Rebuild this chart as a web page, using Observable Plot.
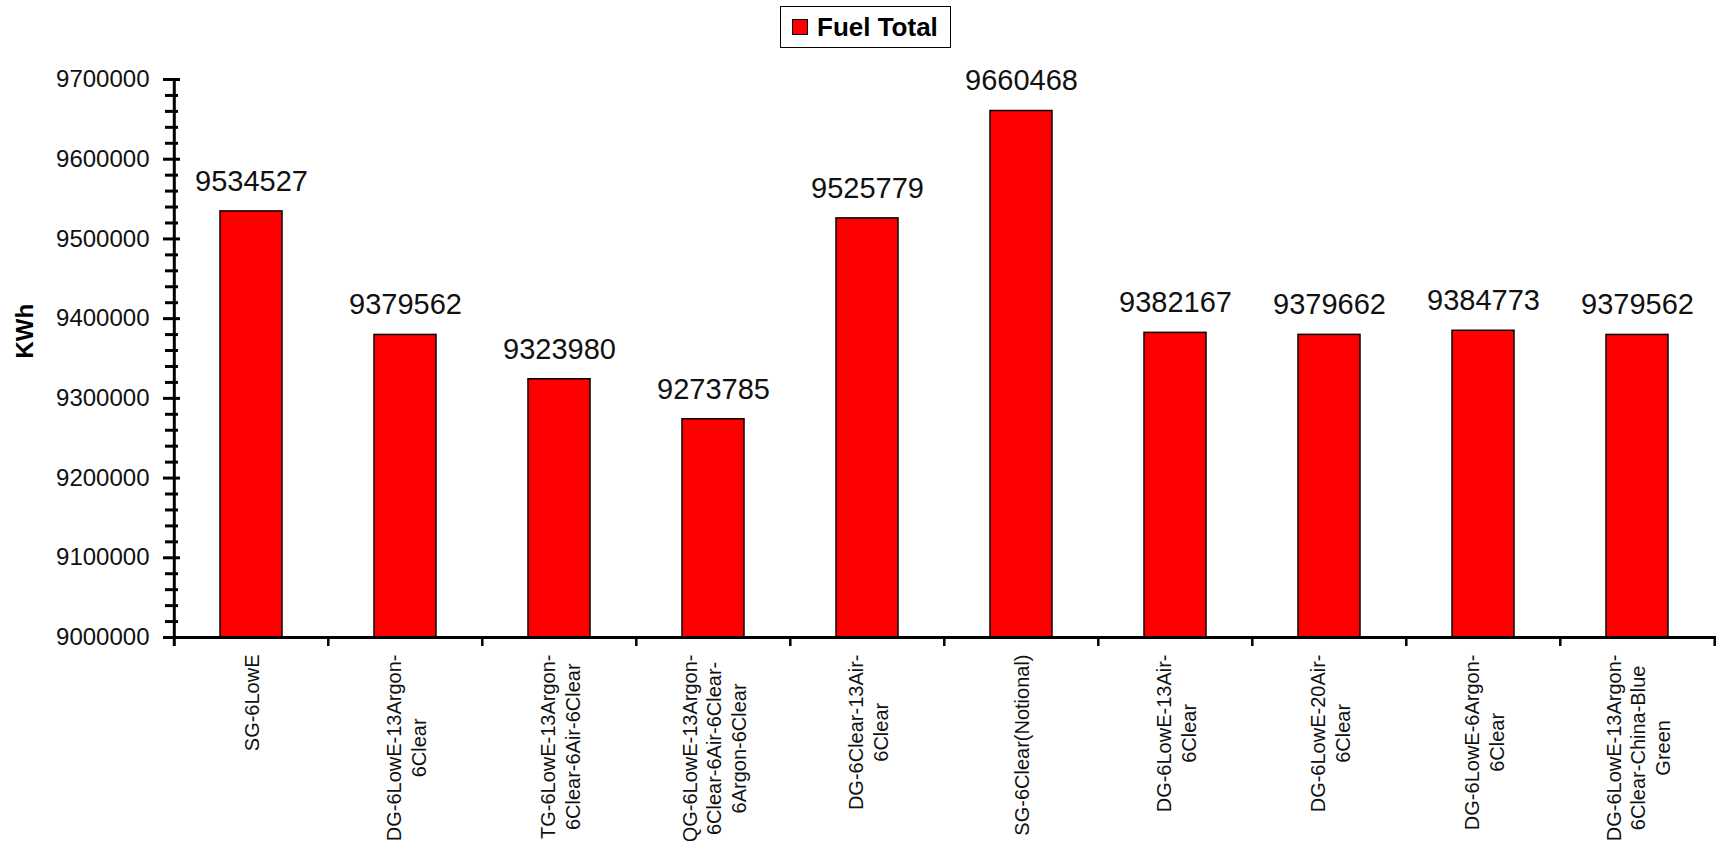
<!DOCTYPE html>
<html>
<head>
<meta charset="utf-8">
<script src="https://cdn.jsdelivr.net/npm/d3@7"></script>
<script src="https://cdn.jsdelivr.net/npm/@observablehq/plot@0.6"></script>
<style>
  body { margin: 0; background: #fff; font-family: "Liberation Sans", Arial, sans-serif; }
  #legend { position: relative; height: 52px; }
  #legend .key {
    position: absolute; left: 780px; top: 6px; width: 171px; height: 42px;
    box-sizing: border-box; border: 1.5px solid #000; background: #fff;
    display: flex; align-items: center; padding-left: 11px;
  }
  #legend .swatch { width: 16px; height: 16px; box-sizing: border-box; background: #ff0000; border: 1.5px solid #000; margin-right: 9px; }
  #legend .name { font-size: 26px; font-weight: bold; color: #000; }
</style>
</head>
<body>
<div id="legend"><div class="key"><span class="swatch"></span><span class="name">Fuel Total</span></div></div>
<div id="chart"></div>
<script>
// Glazing configurations and their annual fuel totals (kWh)
const glazing = [
  "SG-6LowE",
  "DG-6LowE-13Argon-6Clear",
  "TG-6LowE-13Argon-6Clear-6Air-6Clear",
  "QG-6LowE-13Argon-6Clear-6Air-6Clear-6Argon-6Clear",
  "DG-6Clear-13Air-6Clear",
  "SG-6Clear(Notional)",
  "DG-6LowE-13Air-6Clear",
  "DG-6LowE-20Air-6Clear",
  "DG-6LowE-6Argon-6Clear",
  "DG-6LowE-13Argon-6Clear-China-Blue Green"
];
const tickLabels = [
  "SG-6LowE",
  "DG-6LowE-13Argon-\n6Clear",
  "TG-6LowE-13Argon-\n6Clear-6Air-6Clear",
  "QG-6LowE-13Argon-\n6Clear-6Air-6Clear-\n6Argon-6Clear",
  "DG-6Clear-13Air-\n6Clear",
  "SG-6Clear(Notional)",
  "DG-6LowE-13Air-\n6Clear",
  "DG-6LowE-20Air-\n6Clear",
  "DG-6LowE-6Argon-\n6Clear",
  "DG-6LowE-13Argon-\n6Clear-China-Blue\nGreen"
];
const fuelTotal = [9534527, 9379562, 9323980, 9273785, 9525779, 9660468, 9382167, 9379662, 9384773, 9379562];
const yDomain = [9000000, 9700000];
const majorTicks = d3.range(9000000, 9700001, 100000);
const minorTicks = d3.range(9000000, 9700001, 20000).filter(v => v % 100000 !== 0);

const rows = glazing.map((name, i) => ({name, value: fuelTotal[i]}));

// Layout
const width = 1721, height = 789;
const marginTop = 27, marginBottom = 204, marginLeft = 172, marginRight = 5;
const plotW = width - marginLeft - marginRight;
const plotH = height - marginTop - marginBottom;
const paddingInner = 0.6, paddingOuter = 0.3;
const step = plotW / (glazing.length - paddingInner + 2 * paddingOuter);

// Width of the longest line of each category label, to hang the label below the axis
const ctx = document.createElement("canvas").getContext("2d");
ctx.font = "20px 'Liberation Sans', Arial, sans-serif";
const longest = tickLabels.map(t => d3.max(t.split("\n"), s => ctx.measureText(s).width));

const font = "'Liberation Sans', Arial, sans-serif";

const chart = Plot.plot({
  width, height, marginTop, marginBottom, marginLeft, marginRight,
  style: {fontFamily: font, fontSize: "24px", background: "#fff", overflow: "visible"},
  x: {domain: glazing, paddingInner, paddingOuter, axis: null},
  y: {domain: yDomain},
  marks: [
    Plot.barY(rows, {x: "name", y1: yDomain[0], y2: "value", fill: "#ff0000", stroke: "#000", strokeWidth: 1.5}),
    Plot.text(rows, {x: "name", y: "value", text: d => String(d.value), dy: -30, fontSize: 29, fill: "#111"}),
    // y axis: labels, spine and crossing ticks
    Plot.axisY({ticks: majorTicks, tickSize: 0, tickPadding: 23, tickFormat: d3.format("d"), fontSize: 24, fill: "#111", label: null}),
    Plot.tickY(majorTicks, {y: d => d, insetRight: plotW - 17, dx: -9, stroke: "#000", strokeWidth: 3}),
    Plot.tickY(minorTicks, {y: d => d, insetRight: plotW - 13, dx: -7, stroke: "#000", strokeWidth: 3}),
    Plot.ruleX([glazing[0]], {x: d => d, dx: -step / 2, insetBottom: -9, stroke: "#000", strokeWidth: 3}),
    // x axis baseline and category boundary ticks
    Plot.ruleY([yDomain[0]], {y: d => d, stroke: "#000", strokeWidth: 3}),
    Plot.tickX(glazing.slice(1), {x: d => d, dx: -step / 2, insetTop: plotH, insetBottom: -9, stroke: "#000", strokeWidth: 2.5}),
    Plot.tickX([glazing[glazing.length - 1]], {x: d => d, dx: step / 2, insetTop: plotH, insetBottom: -9, stroke: "#000", strokeWidth: 2.5}),
    // rotated category labels
    ...glazing.map((g, i) => Plot.text([g], {
      x: d => d, frameAnchor: "bottom", text: () => tickLabels[i],
      rotate: -90, textAnchor: "middle", lineAnchor: "middle", lineHeight: 1.22,
      dy: 17 + longest[i] / 2, fontSize: 20, fill: "#111"
    })),
    // y axis title
    Plot.text(["KWh"], {frameAnchor: "left", text: d => d, dx: -147, rotate: -90, fontSize: 24, fontWeight: "bold", fill: "#000"})
  ]
});
document.getElementById("chart").appendChild(chart);
</script>
</body>
</html>
